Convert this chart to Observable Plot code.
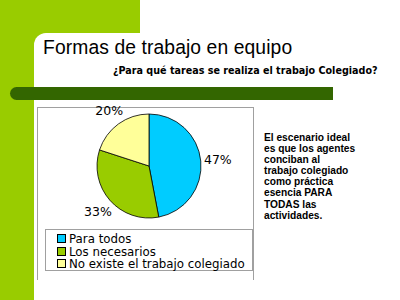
<!DOCTYPE html>
<html><head><meta charset="utf-8">
<script src="https://cdn.jsdelivr.net/npm/d3@7"></script>
<script src="https://cdn.jsdelivr.net/npm/@observablehq/plot@0.6"></script>
<style>
html,body{margin:0;padding:0;width:400px;height:300px;overflow:hidden;background:#fff;font-family:"DejaVu Sans",sans-serif;}
.abs{position:absolute;}
#lime{left:0;top:0;width:140px;height:300px;background:#99cc00;}
#panel{left:34px;top:33px;width:366px;height:267px;background:#fff;border-top-left-radius:12px;}
#title{left:43px;top:37px;font-size:19.3px;font-family:"Liberation Sans",sans-serif;color:#000;white-space:nowrap;letter-spacing:0.1px;}
#subtitle{left:113px;top:65px;font-size:9.6px;font-weight:bold;white-space:nowrap;}
#bar{left:10px;top:87px;width:323px;height:13px;background:#336600;border-radius:7px 0 0 7px;}
#box{left:37px;top:107px;width:217px;height:173px;border:1px solid #a0a0a0;border-bottom:none;box-sizing:border-box;}
#chart{left:38px;top:100px;}
#legend{left:45px;top:229px;width:208px;height:42px;border:1px solid #a0a0a0;box-sizing:border-box;padding:3px 0 0 11px;font-size:11.8px;line-height:12.5px;}
#legend div{white-space:nowrap;}
#legend span{display:inline-block;width:7px;height:7px;border:1px solid #000;margin-right:3px;vertical-align:0px;}
#note{left:264px;top:132px;font-size:10.2px;font-family:"Liberation Sans",sans-serif;font-weight:bold;line-height:11.1px;white-space:nowrap;}
</style></head>
<body>
<div id="lime" class="abs"></div>
<div id="panel" class="abs"></div>
<div id="title" class="abs">Formas de trabajo en equipo</div>
<div id="subtitle" class="abs">¿Para qué tareas se realiza el trabajo Colegiado?</div>
<div id="bar" class="abs"></div>
<div id="box" class="abs"></div>
<div id="chart" class="abs"></div>
<div id="legend" class="abs"></div>
<div id="note" class="abs">El escenario ideal<br>es que los agentes<br>conciban al<br>trabajo colegiado<br>como práctica<br>esencia PARA<br>TODAS las<br>actividades.</div>
<script>
const categories = ["Para todos", "Los necesarios", "No existe el trabajo colegiado"];
const values = [47, 33, 20];
const labels = ["47%", "33%", "20%"];
const colors = ["#00ccff", "#99cc00", "#ffff99"];

const pie = d3.pie().sort(null).value(d => d.value)(categories.map((c, i) => ({category: c, value: values[i], label: labels[i]})));
const slices = pie.map(p => ({...p.data, startAngle: p.startAngle, endAngle: p.endAngle, mid: (p.startAngle + p.endAngle) / 2}));
const labelR = 1.32;

const plot = Plot.plot({
  width: 216, height: 127,
  margin: 0,
  x: {domain: [-1, 1], range: [59, 163], axis: null},
  y: {domain: [-1, 1], range: [118, 14], axis: null},
  color: {domain: categories, range: colors},
  marks: [
    Plot.dot(slices, {
      x: () => 0, y: () => 0,
      render(index, scales, values, dims, context) {
        const cx = scales.x(0), cy = scales.y(0);
        const r = scales.x(1) - scales.x(0);
        const arc = d3.arc().innerRadius(0).outerRadius(r);
        const g = d3.create("svg:g").attr("transform", `translate(${cx},${cy})`);
        for (const i of index) {
          const s = slices[i];
          g.append("path").attr("d", arc(s)).attr("fill", scales.color(s.category))
            .attr("stroke", "#000").attr("stroke-width", 0.8);
        }
        return g.node();
      }
    }),
    Plot.text(slices, {
      x: d => labelR * Math.sin(d.mid), y: d => labelR * Math.cos(d.mid),
      text: "label", fontSize: 12.5, fill: "#000",
      fontFamily: "DejaVu Sans"
    })
  ]
});
document.getElementById("chart").appendChild(plot);

const leg = document.getElementById("legend");
categories.forEach((c, i) => {
  const d = document.createElement("div");
  d.innerHTML = `<span style="background:${colors[i]}"></span>${c}`;
  leg.appendChild(d);
});
</script>
</body></html>
